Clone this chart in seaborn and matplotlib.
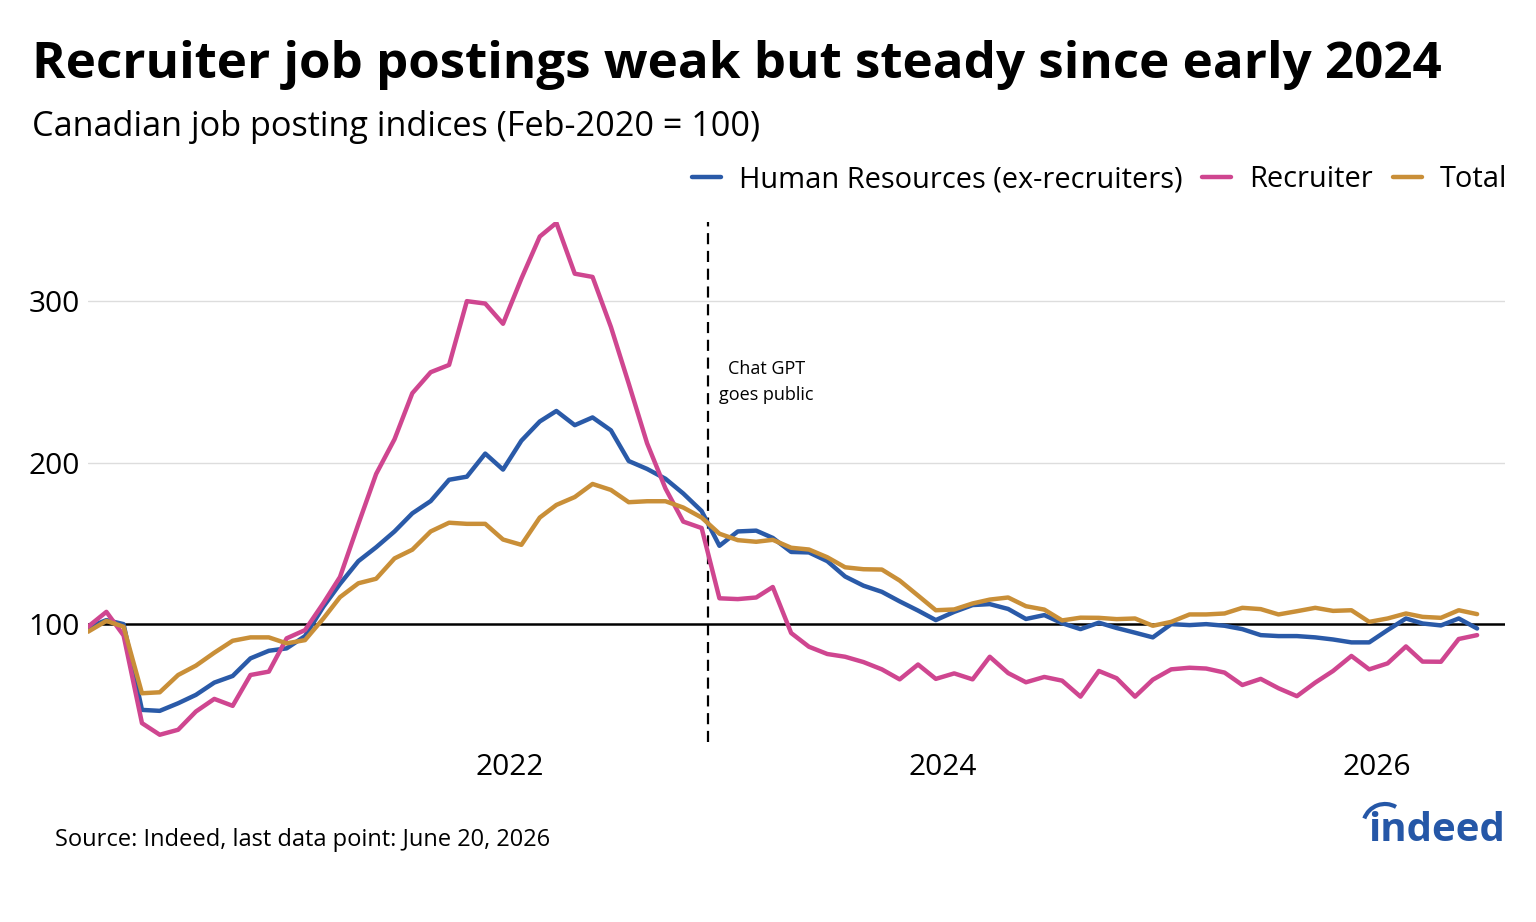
import matplotlib
matplotlib.use("Agg")
import matplotlib.pyplot as plt
from matplotlib.patches import Arc
import pandas as pd
import seaborn as sns

# Monthly index values (Feb-2020 = 100), points on the 20th
start_month = "2020-01-01"
n_months = 78
hr = [98.0, 102.5, 100.0, 46.9, 46.3, 51.0, 56.2, 63.8, 67.9, 78.8, 83.5, 85.0, 92.6,
      110.8, 124.9, 139.0, 147.6, 157.4, 168.6, 176.2, 189.4, 191.3, 205.6, 195.7, 213.6, 225.5,
      232.0, 223.2, 228.0, 220.0, 201.0, 196.1, 190.0, 180.9, 170.0, 148.5, 157.4, 157.9, 153.4,
      144.7, 144.4, 139.0, 129.5, 123.8, 120.0, 114.1, 108.4, 102.5, 107.6, 111.8, 112.4, 109.4,
      103.2, 105.6, 100.6, 96.9, 100.9, 97.6, 94.7, 91.8, 100.0, 99.4, 100.0, 99.0, 96.9,
      93.2, 92.6, 92.6, 91.8, 90.5, 88.7, 88.7, 96.3, 103.5, 100.4, 99.2, 103.5, 97.3]
recruiter = [98.4, 107.6, 93.0, 38.7, 31.5, 34.6, 45.9, 53.7, 49.4, 68.5, 70.6, 91.2, 96.3,
             113.0, 129.2, 162.0, 193.0, 214.5, 243.0, 256.0, 260.5, 300.0, 298.5, 286.0, 314.0, 340.0,
             348.5, 317.0, 315.0, 284.0, 249.0, 212.0, 184.0, 163.5, 159.5, 116.0, 115.5, 116.5, 123.0,
             94.5, 86.0, 81.5, 79.8, 76.5, 72.0, 65.8, 75.0, 66.1, 69.5, 65.8, 79.8, 69.7,
             64.0, 67.3, 65.0, 55.1, 71.0, 66.5, 55.1, 65.6, 72.0, 73.0, 72.5, 70.0, 62.3,
             66.1, 60.3, 55.4, 63.8, 71.0, 80.3, 72.0, 75.7, 86.2, 76.8, 76.7, 90.8, 93.2]
total = [95.3, 102.0, 98.4, 57.2, 57.8, 68.5, 74.3, 82.3, 89.7, 91.8, 91.8, 88.1, 90.1,
         103.5, 116.7, 125.3, 128.1, 140.7, 146.1, 157.4, 162.8, 162.1, 162.1, 152.4, 149.1, 166.0,
         173.8, 178.7, 186.8, 183.1, 175.5, 176.1, 176.1, 172.2, 166.0, 156.0, 152.0, 151.0, 152.2,
         147.3, 146.2, 141.4, 135.2, 134.0, 133.8, 127.0, 117.7, 108.6, 109.1, 112.8, 115.2, 116.5,
         111.1, 109.0, 102.3, 104.0, 103.9, 103.1, 103.5, 99.0, 101.4, 106.0, 106.0, 106.6, 110.1,
         109.3, 106.0, 108.0, 110.1, 108.2, 108.6, 101.4, 103.5, 106.6, 104.5, 103.9, 108.6, 106.2]
series_names = ["Human Resources (ex-recruiters)", "Recruiter", "Total"]
colors = ["#2a5aa8", "#cf4690", "#c98f38"]
year_ticks = ["2022-01-01", "2024-01-01", "2026-01-01"]
year_labels = ["2022", "2024", "2026"]
chatgpt_date = "2022-11-30"

dates = pd.date_range(start_month, periods=n_months, freq="MS") + pd.Timedelta(days=19)
df = pd.concat([
    pd.DataFrame({"date": dates, "value": vals, "series": name})
    for name, vals in zip(series_names, [hr, recruiter, total])
])

sns.set_theme(style="white")
plt.rcParams["font.family"] = ["Open Sans", "Noto Sans", "DejaVu Sans"]
plt.rcParams["text.color"] = "black"

fig = plt.figure(figsize=(15.36, 9.22), dpi=100)
ax = fig.add_axes([0.0573, 0.1952, 0.9225, 0.564])

ax.axhline(100, color="black", lw=1.8, zorder=1)
for y in [200, 300]:
    ax.axhline(y, color="#dddddd", lw=1.0, zorder=0)

sns.lineplot(data=df, x="date", y="value", hue="series", palette=colors,
             hue_order=series_names, lw=3.2, ax=ax, legend=False, zorder=3)

ax.axvline(pd.Timestamp(chatgpt_date), color="black", lw=1.6, ls=(0, (5, 3)), zorder=2)
ax.text(pd.Timestamp("2023-03-09"), 250, "Chat GPT\ngoes public", ha="center", va="center",
        fontsize=13, linespacing=1.55)

ax.set_xlim(pd.Timestamp("2020-01-20"), pd.Timestamp("2026-08-06"))
ax.set_ylim(27, 349)
ax.set_xticks(pd.to_datetime(year_ticks))
ax.set_xticklabels(year_labels)
ax.set_yticks([100, 200, 300])
ax.tick_params(axis="both", length=0, labelsize=21.5, colors="black")
ax.tick_params(axis="y", pad=6)
ax.tick_params(axis="x", pad=8)
ax.set_xlabel("")
ax.set_ylabel("")
for s in ax.spines.values():
    s.set_visible(False)

handles = [plt.Line2D([], [], color=c, lw=3.2) for c in colors]
fig.legend(handles, series_names, loc="center right", bbox_to_anchor=(0.998, 0.805),
           ncol=3, frameon=False, fontsize=20.9, handlelength=1.0, handletextpad=0.6,
           columnspacing=0.7)

fig.text(0.021, 0.929, "Recruiter job postings weak but steady since early 2024",
         fontsize=36.8, fontweight="bold", va="center")
fig.text(0.021, 0.862, "Canadian job posting indices (Feb-2020 = 100)", fontsize=24.7, va="center")
fig.text(0.036, 0.089, "Source: Indeed, last data point: June 20, 2026", fontsize=17, va="center")

# Indeed wordmark
fig.text(0.98, 0.099, "indeed", fontsize=29, fontweight="bold", color="#2557a7",
         ha="right", va="center")
logo_ax = fig.add_axes([0, 0, 1, 1], facecolor="none")
logo_ax.set_xlim(0, 1536)
logo_ax.set_ylim(922, 0)
logo_ax.axis("off")
logo_ax.add_patch(Arc((1385, 826), 44, 44, theta1=200, theta2=300, color="#2557a7", lw=3))

fig.savefig("out.png", dpi=100)
